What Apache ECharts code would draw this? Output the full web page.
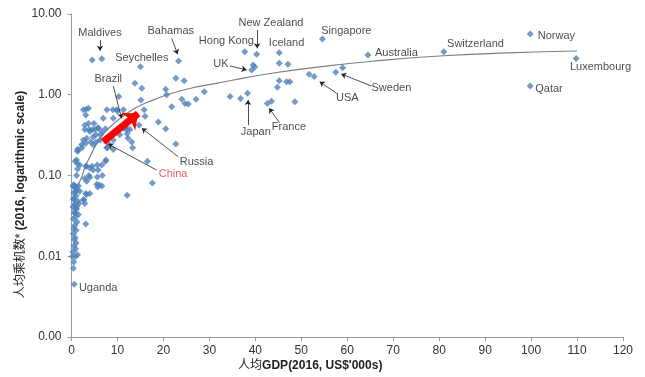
<!DOCTYPE html>
<html>
<head>
<meta charset="utf-8">
<script src="https://cdn.jsdelivr.net/npm/echarts@6/dist/echarts.min.js"></script>
<style>
  html, body { margin: 0; padding: 0; background: #fff; }
  #chart { width: 645px; height: 377px; }
</style>
</head>
<body>
<div id="chart"></div>
<script>
// [GDP per capita US$'000s, trips per capita]
const richPoints = [
  [6.6, 2.79], [4.5, 2.69], [15.0, 2.22], [23.3, 2.62], [37.7, 3.41], [40.3, 3.17],
  [39.2, 2.03], [39.5, 2.33], [39.9, 2.20], [45.2, 3.32], [45.2, 2.45], [47.1, 2.38],
  [54.6, 4.90], [64.5, 3.10], [81.0, 3.41], [99.8, 5.65], [109.8, 2.82], [99.8, 1.28],
  [59.0, 2.16], [57.5, 1.90], [51.7, 1.79], [52.8, 1.68], [45.2, 1.49], [46.8, 1.45],
  [47.5, 1.45], [44.8, 1.24], [48.6, 0.82], [42.6, 0.78], [43.5, 0.83], [38.3, 1.04],
  [36.8, 0.90], [34.5, 0.95], [28.9, 1.09], [27.1, 0.88], [24.0, 0.88], [24.7, 0.78],
  [25.4, 0.77], [22.7, 1.60], [24.5, 1.49], [20.5, 1.17], [20.7, 1.0], [21.8, 0.71]
]

const middlePoints = [
  [13.8, 1.39], [15.3, 1.20], [10.3, 0.95], [15.1, 0.86], [15.8, 0.65], [16.0, 0.54],
  [18.9, 0.46], [20.5, 0.38], [14.7, 0.42], [22.7, 0.245], [16.5, 0.15], [17.6, 0.081],
  [12.1, 0.057], [3.2, 0.66], [3.7, 0.68], [2.6, 0.65], [7.7, 0.65], [9.0, 0.65],
  [9.8, 0.65], [11.3, 0.65], [6.9, 0.51], [9.1, 0.51], [3.1, 0.56], [11.3, 0.385],
  [12.0, 0.37], [12.7, 0.37], [12.3, 0.29], [13.1, 0.26], [13.3, 0.22], [10.5, 0.32],
  [9.1, 0.275], [7.7, 0.22], [7.5, 0.156], [6.6, 0.135], [5.8, 0.117], [5.5, 0.078],
  [6.6, 0.074], [2.9, 0.42], [3.7, 0.44], [2.9, 0.37], [4.0, 0.35], [5.1, 0.37],
  [5.8, 0.385], [6.6, 0.35], [4.7, 0.30], [3.3, 0.29], [2.6, 0.275], [2.2, 0.24],
  [1.5, 0.207], [6.2, 0.275], [4.7, 0.24], [8.0, 0.25], [7.4, 0.38], [4.5, 0.37],
  [3.8, 0.37], [5.3, 0.32], [6.3, 0.32], [3.1, 0.25], [4.2, 0.26], [5.3, 0.26],
  [1.3, 0.21], [2.3, 0.22], [7.8, 0.22], [9.1, 0.21], [11.8, 0.40], [12.1, 0.33],
  [4.9, 0.44], [5.8, 0.39], [10.0, 0.63]
]

const poorPoints = [
  [1.3, 0.20], [0.8, 0.15], [1.3, 0.14], [3.1, 0.13], [4.5, 0.13], [5.6, 0.135],
  [7.4, 0.15], [1.3, 0.12], [3.8, 0.10], [5.6, 0.096], [6.7, 0.10], [3.3, 0.085],
  [6.0, 0.077], [0.5, 0.077], [0.9, 0.063], [3.1, 0.06], [0.5, 0.052], [2.7, 0.050],
  [1.6, 0.045], [0.9, 0.039], [1.1, 0.156], [1.8, 0.135], [3.3, 0.13], [4.0, 0.124],
  [4.7, 0.117], [1.1, 0.10], [2.9, 0.092], [4.0, 0.095], [0.76, 0.074], [1.8, 0.064],
  [4.0, 0.06], [2.6, 0.05], [1.1, 0.041], [0.76, 0.034], [3.3, 0.058], [2.9, 0.045],
  [5.7, 0.072], [1.5, 0.074], [0.3, 0.074], [0.8, 0.070], [1.2, 0.066], [0.5, 0.061],
  [1.0, 0.056], [0.4, 0.051], [1.4, 0.048], [0.7, 0.044], [0.3, 0.041], [1.1, 0.0385],
  [0.6, 0.035], [1.5, 0.033], [0.9, 0.031], [0.4, 0.029], [1.2, 0.0265], [0.7, 0.024],
  [0.5, 0.022], [1.0, 0.021], [0.4, 0.019], [0.8, 0.017], [0.6, 0.016], [1.0, 0.0146],
  [0.5, 0.0134], [0.9, 0.0123], [0.3, 0.0113], [0.2, 0.0099], [0.9, 0.0099], [1.3, 0.0104],
  [0.5, 0.0085], [0.4, 0.0071], [3.1, 0.025], [0.6, 0.0045]
]

// trend line
const trendGdp = [0.35, 0.76, 1.5, 2.2, 3, 4, 5.5, 7, 9, 11, 14, 18, 22, 27, 32, 38, 45, 54, 65, 80, 95, 110]
const trendTrips = [0.04, 0.05, 0.077, 0.095, 0.13, 0.17, 0.25, 0.33, 0.43, 0.53, 0.69, 0.87, 1.05, 1.24, 1.40, 1.63, 1.90, 2.22, 2.58, 3.02, 3.30, 3.48]

// country labels: name, gdp, trips (where the text sits)
const labelNames = ["Maldives", "Bahamas", "Seychelles", "Hong Kong", "New Zealand", "Iceland", "UK",
  "Singapore", "Australia", "Switzerland", "Norway", "Luxembourg", "Qatar", "Sweden", "USA",
  "Japan", "France", "Brazil", "Russia", "China", "Uganda"]
const labelGdp = [6.2, 21.6, 15.3, 33.7, 43.4, 46.8, 32.5, 59.8, 70.7, 87.9, 105.5, 115.1, 103.9,
  69.6, 60.0, 40.1, 47.3, 8.0, 27.2, 22.1, 5.8]
const labelTrips = [5.82, 6.16, 2.83, 4.64, 7.67, 4.42, 2.41, 6.21, 3.32, 4.22, 5.38, 2.19, 1.17,
  1.20, 0.92, 0.35, 0.395, 1.55, 0.148, 0.104, 0.0040]

// pointer arrows: [fromGdp, fromTrips, toGdp, toTrips]
const pointers = [
  [6.2, 4.77, 6.2, 3.5], [21.8, 5.0, 23.1, 3.17], [40.4, 6.34, 40.4, 3.76],
  [34.5, 2.27, 38.1, 2.03], [65.3, 1.28, 58.7, 1.81], [57.7, 1.04, 54.0, 1.45],
  [38.4, 0.42, 38.4, 0.86], [45.3, 0.45, 43.0, 0.68], [9.1, 1.28, 10.9, 0.51],
  [23.2, 0.171, 15.3, 0.385], [18.5, 0.117, 8.0, 0.245]
]
const chinaArrow = [6.9, 0.262, 14.5, 0.586]

const xTicks = { min: 0, max: 120, interval: 10 }

const font = "'Liberation Sans', Arial, 'Noto Sans CJK SC', sans-serif"
const chart = echarts.init(document.getElementById("chart"))

const labelData = labelNames.map((n, i) => ({
  name: n,
  value: [labelGdp[i], labelTrips[i]],
  label: n === "China" ? { color: "#e8323c" } : undefined
}))

// "人均" parts are regular weight, the rest bold
const nameRich = {
  n: { fontSize: 12, color: "#222", fontWeight: "normal", fontFamily: font },
  b: { fontSize: 12, color: "#222", fontWeight: "bold", fontFamily: font }
}

const option = {
  animation: false,
  backgroundColor: "#fff",
  textStyle: { fontFamily: font },
  grid: { left: 71.5, right: 22, top: 14, bottom: 40 },
  xAxis: {
    type: "value",
    min: xTicks.min,
    max: xTicks.max,
    interval: xTicks.interval,
    name: "{n|人均}{b|GDP(2016, US$'000s)}",
    nameLocation: "middle",
    nameGap: 23,
    nameMoveOverlap: false,
    nameTextStyle: { padding: [0, 74, 0, 0], rich: nameRich },
    axisLine: { lineStyle: { color: "#9a9a9a" } },
    axisTick: { show: true, length: 4, lineStyle: { color: "#9a9a9a" } },
    axisLabel: { color: "#333", fontSize: 12, margin: 8 },
    splitLine: { show: false }
  },
  yAxis: {
    type: "log",
    logBase: 10,
    min: 0.001,
    max: 10,
    name: "{n|人均乘机数*}{b| (2016, logarithmic scale)}",
    nameLocation: "middle",
    nameGap: 45,
    nameMoveOverlap: false,
    nameTextStyle: { padding: [0, 38, 0, 0], rich: nameRich },
    axisLine: { show: true, lineStyle: { color: "#9a9a9a" } },
    axisTick: { show: true, length: 4, lineStyle: { color: "#9a9a9a" } },
    minorTick: { show: false },
    axisLabel: { color: "#333", fontSize: 12, margin: 10, formatter: (v) => v.toFixed(2) },
    splitLine: { show: false }
  },
  series: [
    {
      type: "line",
      data: trendGdp.map((g, i) => [g, trendTrips[i]]),
      smooth: true,
      showSymbol: false,
      lineStyle: { color: "#7f7f7f", width: 1.2 },
      z: 1
    },
    {
      type: "scatter",
      data: richPoints.concat(middlePoints, poorPoints),
      symbol: "diamond",
      symbolSize: 7,
      itemStyle: { color: "#4f81bd" },
      z: 2
    },
    {
      type: "scatter",
      data: labelData,
      symbolSize: 0,
      label: {
        show: true,
        position: "inside",
        formatter: (p) => p.name,
        color: "#1a1a1a",
        fontSize: 11,
        fontFamily: font
      },
      markLine: {
        silent: true,
        symbol: ["none", "arrow"],
        symbolSize: 5,
        label: { show: false },
        lineStyle: { color: "#222", width: 0.8, type: "solid" },
        data: pointers.map((p) => [{ coord: [p[0], p[1]] }, { coord: [p[2], p[3]] }])
      },
      z: 3
    },
    {
      type: "scatter",
      data: [],
      markLine: {
        silent: true,
        symbol: ["none", "arrow"],
        symbolSize: [17, 13],
        label: { show: false },
        lineStyle: { color: "#ff0000", width: 7, type: "solid", opacity: 1 },
        itemStyle: { color: "#ff0000" },
        data: [[{ coord: [chinaArrow[0], chinaArrow[1]] }, { coord: [chinaArrow[2], chinaArrow[3]] }]]
      },
      z: 4
    }
  ]
}

chart.setOption(option)
</script>
</body>
</html>
